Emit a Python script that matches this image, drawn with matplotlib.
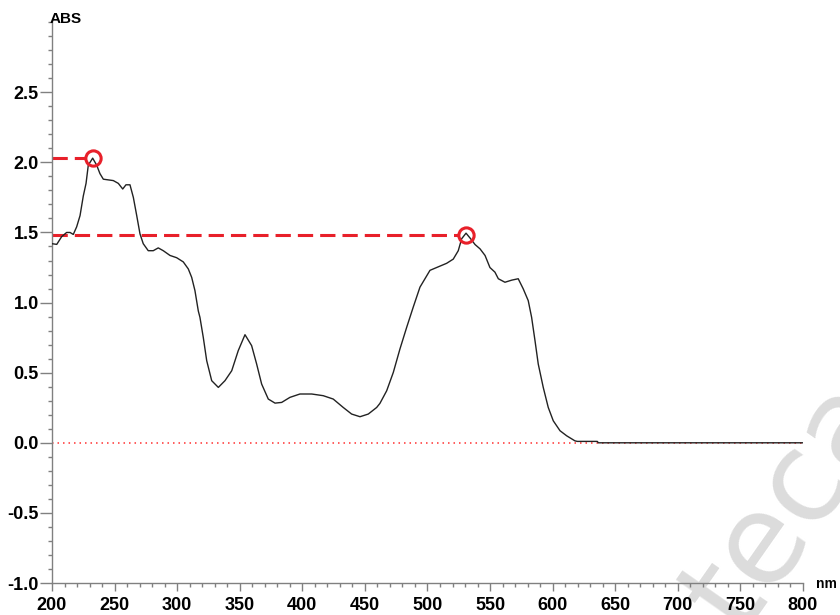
import matplotlib
matplotlib.use("Agg")
import matplotlib.pyplot as plt
from matplotlib.ticker import MultipleLocator, FixedLocator, FixedFormatter

# --- spectrum (wavelength nm, absorbance) ------------------------------------
wavelength = [200.0, 203.8, 207.7, 211.7, 214.4, 217.0, 219.7, 222.4, 225.0, 227.2,
              229.0, 232.5, 235.7, 238.3, 241.0, 245.0, 249.0, 253.0, 256.5, 259.1,
              262.3, 265.0, 267.7, 270.3, 272.9, 276.9, 280.9, 284.9, 288.9, 294.3,
              299.6, 304.9, 308.9, 311.6, 314.2, 316.9, 318.2, 320.9, 323.6, 327.6,
              332.9, 338.2, 343.6, 348.8, 354.2, 359.5, 363.5, 367.5, 372.8, 378.2,
              383.5, 390.1, 398.1, 407.5, 416.7, 424.7, 432.7, 439.4, 446.1, 452.7,
              459.4, 462.0, 467.4, 472.7, 478.0, 483.4, 488.6, 494.0, 498.0, 502.0,
              507.3, 515.3, 520.6, 524.6, 527.3, 530.8, 534.5, 538.0, 542.0, 546.0,
              549.9, 553.9, 556.6, 561.9, 567.3, 572.5, 576.5, 580.5, 583.2, 585.9,
              588.5, 592.5, 596.5, 600.5, 605.9, 611.2, 617.8, 619.7, 635.7, 636.5,
              800.0]
absorbance = [1.42, 1.415, 1.47, 1.50, 1.50, 1.486, 1.54, 1.62, 1.76, 1.85,
              1.98, 2.03, 1.98, 1.92, 1.88, 1.875, 1.87, 1.85, 1.81, 1.84,
              1.84, 1.75, 1.62, 1.49, 1.42, 1.37, 1.37, 1.39, 1.37, 1.336,
              1.32, 1.29, 1.24, 1.18, 1.086, 0.94, 0.895, 0.75, 0.586, 0.443,
              0.395, 0.443, 0.514, 0.657, 0.771, 0.693, 0.562, 0.419, 0.312, 0.283,
              0.288, 0.324, 0.348, 0.348, 0.336, 0.312, 0.252, 0.205, 0.186, 0.205,
              0.252, 0.281, 0.371, 0.502, 0.669, 0.824, 0.967, 1.11, 1.17, 1.23,
              1.25, 1.28, 1.31, 1.37, 1.455, 1.495, 1.455, 1.414, 1.383, 1.336,
              1.25, 1.217, 1.17, 1.145, 1.16, 1.17, 1.098, 1.014, 0.895, 0.729,
              0.562, 0.395, 0.252, 0.157, 0.086, 0.05, 0.014, 0.01, 0.01, 0.0,
              0.0]

peak_nm = [232.5, 530.8]
peak_abs = [2.03, 1.48]

y_ticks = [-1.0, -0.5, 0.0, 0.5, 1.0, 1.5, 2.0, 2.5]
y_labels = ["-1.0", "-0.5", "0.0", "0.5", "1.0", "1.5", "2.0", "2.5"]
x_ticks = [200, 250, 300, 350, 400, 450, 500, 550, 600, 650, 700, 750, 800]

RED = "#e8202a"
GREY = "#808080"

fig = plt.figure(figsize=(8.4, 6.15), dpi=100)

# watermark, faint and behind the axes (cut by the figure edge as in the scan)
fig.text(0.778, -0.218, "lioteca", fontsize=90, color="#dcdcdc",
         family="DejaVu Sans", rotation=55, rotation_mode="anchor",
         ha="left", va="baseline", zorder=-1)

ax = fig.add_axes([0.0619, 0.052, 0.894, 0.912])
ax.set_facecolor("none")

# zero line (dotted red) under the curve
ax.plot([200, 800], [0, 0], color="#ff3030", lw=1.1, dashes=(1.0, 2.6), zorder=1)

# peak markers with dashed guides to the y axis
for px, py in zip(peak_nm, peak_abs):
    ax.plot([200, px - 6.5], [py, py], color=RED, lw=2.2, dashes=(5, 2.3),
            solid_capstyle="butt", dash_capstyle="butt", zorder=2)
    ax.plot(px, py, "o", ms=11, mfc="none", mec=RED, mew=2.2, zorder=4)

ax.plot(wavelength, absorbance, color="#222222", lw=1.0, zorder=3)

ax.set_xlim(200, 800)
ax.set_ylim(-1.0, 3.0)

for side in ("top", "right"):
    ax.spines[side].set_visible(False)
for side in ("left", "bottom"):
    ax.spines[side].set_color(GREY)
    ax.spines[side].set_linewidth(1.0)

ax.xaxis.set_major_locator(FixedLocator(x_ticks))
ax.xaxis.set_minor_locator(MultipleLocator(10))
ax.yaxis.set_major_locator(FixedLocator(y_ticks))
ax.yaxis.set_major_formatter(FixedFormatter(y_labels))
ax.yaxis.set_minor_locator(MultipleLocator(0.1))

ax.tick_params(axis="y", which="major", length=8.5, width=1.0, color=GREY, pad=1)
ax.tick_params(axis="y", which="minor", length=3, width=1.0, color=GREY)
ax.tick_params(axis="x", which="major", length=6, width=1.0, color=GREY, pad=4)
ax.tick_params(axis="x", which="minor", length=3, width=1.0, color=GREY)

for lab in ax.get_xticklabels() + ax.get_yticklabels():
    lab.set_family("Liberation Sans")
    lab.set_fontweight("bold")
    lab.set_fontsize(13)

fig.text(50 / 840, 1 - 19 / 615, "ABS", fontsize=11, fontweight="bold",
         family="Liberation Sans", ha="left", va="center")
fig.text(816 / 840, 1 - 584 / 615, "nm", fontsize=10, fontweight="bold",
         family="Liberation Sans", ha="left", va="center")

fig.savefig("out.png", dpi=100)
